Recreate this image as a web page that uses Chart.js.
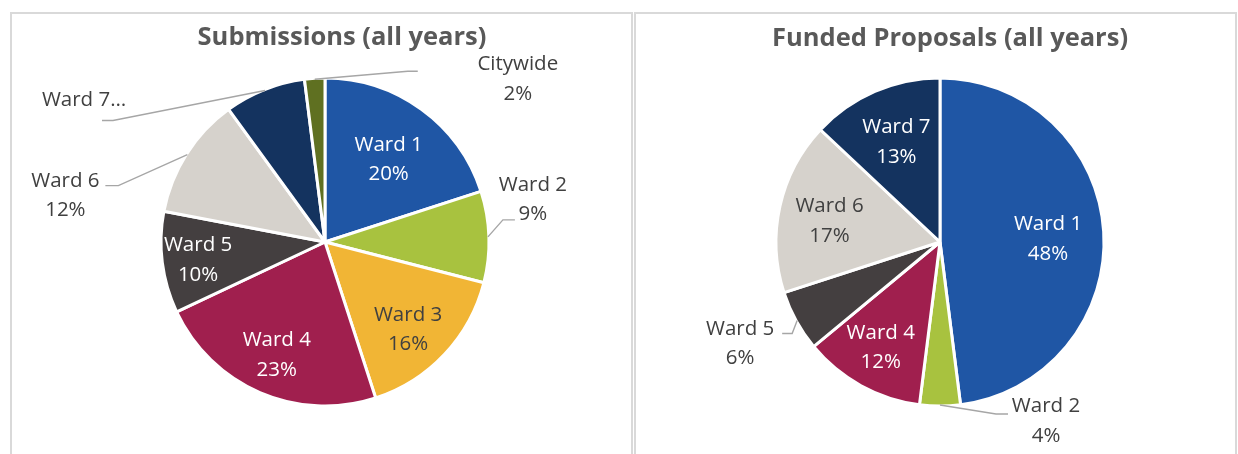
<!DOCTYPE html>
<html><head><meta charset="utf-8">
<script src="https://cdn.jsdelivr.net/npm/chart.js@4.4.0/dist/chart.umd.min.js"></script>
<style>
html,body{margin:0;padding:0;background:#fff;width:1238px;height:454px;overflow:hidden;}
.panel{position:absolute;border:2px solid #d9d9d9;box-sizing:border-box;}
canvas{position:absolute;left:0;top:0;}
</style></head><body>
<div class="panel" style="left:10px;top:12px;width:623px;height:470px"></div>
<div class="panel" style="left:634px;top:12px;width:603px;height:470px"></div>
<canvas id="c1" width="1238" height="454"></canvas>
<canvas id="c2" width="1238" height="454"></canvas>
<script>
// ---- data ----
const categories = ['Ward 1','Ward 2','Ward 3','Ward 4','Ward 5','Ward 6','Ward 7','Citywide'];
const submissionsPct = [20, 9, 16, 23, 10, 12, 8, 2];
const fundedPct = [48, 4, 0, 12, 6, 17, 13, 0];
const submissionsTitle = 'Submissions (all years)';
const fundedTitle = 'Funded Proposals (all years)';
const submissionsLabelOverride = [null, null, null, null, null, null, 'Ward 7\u2026', null];

// ---- styles ----
const sliceColors = ['#1F56A5','#A8C23F','#F1B535','#A01F4E','#443F40','#D6D2CC','#14335F','#5F7021'];
const WHITE = '#FFFFFF', DARK = '#404040';
const FONT = '"Open Sans", "Noto Sans", sans-serif';
const LABEL_SIZE = 20.5, TITLE_SIZE = 25.5, LINE_H = 29.5, TEXT_DY = 2;

// inside labels: f = fraction of radius (+dx,dy tweak); outside: leader offsets from slice edge
const subLayout = [
  {f:0.66, dy:3, c:WHITE},
  {p1:[15,-17], p2:[27,-17], t:[45,-39], c:DARK},
  {f:0.72, dx:-3, dy:5, c:DARK},
  {f:0.74, c:WHITE},
  {f:0.78, c:WHITE},
  {p1:[-69,31], p2:[-82,31], t:[-122,39], c:DARK},
  {p1:[-152,30], p2:[-163,30], t:[-181,8], c:DARK},
  {p1:[93,-8], p2:[103,-8], t:[203,-2], c:DARK}
];
const fundLayout = [
  {f:0.66, dy:2, c:WHITE},
  {p1:[56,9], p2:[68,9], t:[106,14], c:DARK},
  null,
  {f:0.75, dy:-4, c:WHITE},
  {p1:[-5,13], p2:[-15,13], t:[-57,21], c:DARK},
  {f:0.69, dy:2, c:DARK},
  {f:0.67, dy:-1, c:WHITE},
  null
];

function labelPlugin(layout, overrides, titleText, titleOff) {
  return {
    id: 'wardLabels',
    afterDatasetsDraw(chart) {
      const ctx = chart.ctx;
      const meta = chart.getDatasetMeta(0);
      const data = chart.data.datasets[0].data;
      ctx.save();
      ctx.textAlign = 'center';
      ctx.textBaseline = 'middle';
      let cx = 0, cy = 0;
      meta.data.forEach((arc, i) => {
        const p = arc.getProps(['x','y','startAngle','endAngle','outerRadius'], true);
        cx = p.x; cy = p.y;
        const L = layout[i];
        if (!L || !data[i]) return;
        const mid = (p.startAngle + p.endAngle) / 2;
        const ov = overrides ? overrides[i] : null;
        const lines = ov ? [ov] : [chart.data.labels[i], data[i] + '%'];
        let tx, ty;
        if (L.f) {
          tx = p.x + Math.cos(mid) * p.outerRadius * L.f + (L.dx || 0);
          ty = p.y + Math.sin(mid) * p.outerRadius * L.f + (L.dy || 0);
        } else {
          const ex = p.x + Math.cos(mid) * (p.outerRadius - 1);
          const ey = p.y + Math.sin(mid) * (p.outerRadius - 1);
          ctx.strokeStyle = '#A6A6A6';
          ctx.lineWidth = 1.4;
          ctx.beginPath();
          ctx.moveTo(ex, ey);
          ctx.lineTo(ex + L.p1[0], ey + L.p1[1]);
          ctx.lineTo(ex + L.p2[0], ey + L.p2[1]);
          ctx.stroke();
          tx = ex + L.t[0]; ty = ey + L.t[1];
        }
        ctx.font = LABEL_SIZE + 'px ' + FONT;
        ctx.fillStyle = L.c;
        lines.forEach((s, k) => ctx.fillText(s, tx, ty + TEXT_DY + (k - (lines.length - 1) / 2) * LINE_H));
      });
      ctx.font = 'bold ' + TITLE_SIZE + 'px ' + FONT;
      ctx.fillStyle = '#595959';
      ctx.fillText(titleText, cx + titleOff[0], cy + titleOff[1]);
      ctx.restore();
    }
  };
}

function makePie(id, values, layout, overrides, titleText, titleOff, pad) {
  return new Chart(document.getElementById(id), {
    type: 'pie',
    data: {
      labels: categories,
      datasets: [{
        data: values,
        backgroundColor: sliceColors,
        borderColor: '#FFFFFF',
        borderWidth: 3
      }]
    },
    options: {
      responsive: false,
      animation: false,
      events: [],
      radius: 164,
      layout: { padding: pad },
      plugins: { legend: { display: false }, tooltip: { enabled: false }, title: { display: false } }
    },
    plugins: [labelPlugin(layout, overrides, titleText, titleOff)]
  });
}

// chart areas centred on pie centres (325,242) and (940,242)
makePie('c1', submissionsPct, subLayout, submissionsLabelOverride, submissionsTitle, [17, -204],
        {left: 125, right: 713, top: 42, bottom: 12});
makePie('c2', fundedPct, fundLayout, null, fundedTitle, [10, -203],
        {left: 740, right: 98, top: 42, bottom: 12});
</script>
</body></html>
